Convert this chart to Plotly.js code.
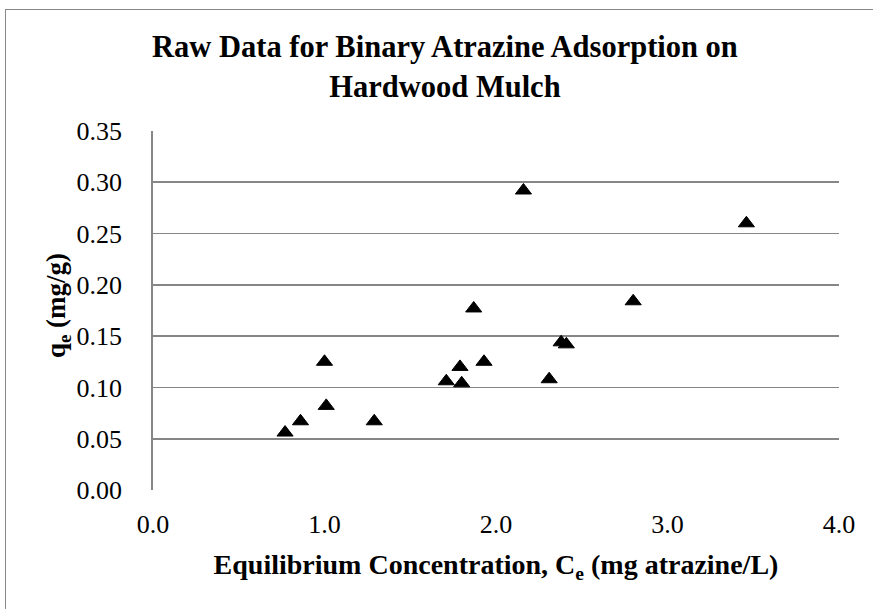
<!DOCTYPE html>
<html>
<head>
<meta charset="utf-8">
<script src="https://cdn.plot.ly/plotly-3.0.1.min.js"></script>
<style>
  html, body { margin: 0; padding: 0; background: #ffffff; }
  #frame { position: absolute; left: 5px; top: 9px; width: 900px; height: 700px;
           border-left: 1.5px solid #888888; border-top: 1.5px solid #888888; }
  #chart { position: absolute; left: 0; top: 0; width: 873px; height: 609px; }
</style>
</head>
<body>
<div id="frame"></div>
<div id="chart"></div>
<script>
// Equilibrium concentration Ce (mg atrazine/L)
const ceValues = [0.77, 0.86, 1.01, 1.00, 1.29, 1.71, 1.79, 1.80, 1.87, 1.93, 2.16, 2.31, 2.38, 2.41, 2.80, 3.46];
// Adsorbed amount qe (mg/g)
const qeValues = [0.056, 0.067, 0.082, 0.125, 0.067, 0.106, 0.120, 0.104, 0.177, 0.125, 0.292, 0.108, 0.144, 0.142, 0.184, 0.260];
const xTickVals = [0, 1, 2, 3, 4];
const xTickText = ["0.0", "1.0", "2.0", "3.0", "4.0"];
const yTickVals = [0, 0.05, 0.10, 0.15, 0.20, 0.25, 0.30, 0.35];
const yTickText = ["0.00", "0.05", "0.10", "0.15", "0.20", "0.25", "0.30", "0.35"];

const FONT = "Liberation Serif";
const GRID = "#868686";

const trace = {
  type: "scatter",
  mode: "markers",
  x: ceValues,
  y: qeValues,
  marker: { symbol: "triangle-up", size: 14, color: "#000000", line: { color: "#000000", width: 1 } },
  hoverinfo: "x+y",
  showlegend: false
};

const layout = {
  width: 873,
  height: 609,
  paper_bgcolor: "rgba(0,0,0,0)",
  plot_bgcolor: "rgba(0,0,0,0)",
  margin: { l: 153, r: 34, t: 131, b: 119, pad: 0 },
  font: { family: FONT, color: "#000000", size: 26 },
  title: {
    text: "<b>Raw Data for Binary Atrazine Adsorption on<br>Hardwood Mulch</b>",
    font: { family: FONT, size: 30.5, color: "#000000" },
    xref: "container", x: 0.5097, xanchor: "center",
    yref: "container", y: 0.906, yanchor: "top"
  },
  xaxis: {
    range: [0, 4],
    tickvals: xTickVals,
    ticktext: xTickText,
    ticks: "",
    showgrid: false,
    zeroline: false,
    showline: false,
    ticklabelstandoff: 16,
    tickfont: { family: FONT, size: 26, color: "#000000" },
    title: {
      text: "<b>Equilibrium Concentration, C<sub>e</sub> (mg atrazine/L)</b>",
      font: { family: FONT, size: 28, color: "#000000" },
      standoff: 16
    },
    fixedrange: true
  },
  yaxis: {
    range: [0, 0.35],
    tickvals: yTickVals,
    ticktext: yTickText,
    ticks: "",
    showgrid: true,
    gridcolor: GRID,
    gridwidth: 1.8,
    zeroline: false,
    showline: true,
    linecolor: GRID,
    linewidth: 1.8,
    ticklabelstandoff: 24,
    tickfont: { family: FONT, size: 26, color: "#000000" },
    fixedrange: true
  },
  annotations: [{
    text: "<b>q<sub>e</sub> (mg/g)</b>",
    font: { family: FONT, size: 27, color: "#000000" },
    xref: "paper", x: -0.1385, xanchor: "center",
    yref: "paper", y: 0.515, yanchor: "middle",
    textangle: -90,
    showarrow: false
  }]
};

Plotly.newPlot("chart", [trace], layout, { displayModeBar: false, staticPlot: true });
</script>
</body>
</html>
